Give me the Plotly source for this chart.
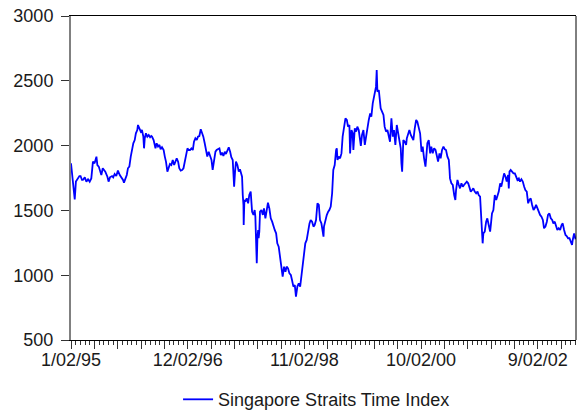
import plotly.graph_objects as go

# Straits Times Index, daily (5-day week) observations counted from 1/02/95
obs = [
    0, 7, 11, 16, 21, 30, 36, 41, 47, 51, 59, 66, 73, 80, 87, 94, 101, 109, 113, 119,
    124, 130, 136, 141, 147, 156, 161, 167, 176, 181, 187, 194, 201, 209, 216, 223, 227, 233, 239, 244,
    250, 256, 261, 267, 273, 278, 284, 287, 293, 299, 304, 310, 313, 316, 321, 327, 333, 339, 344,
    347, 354, 362, 367, 373, 379, 384, 390, 397, 402, 407, 413, 419, 424, 430, 436, 442, 447, 453, 459,
    464, 470, 476, 482, 487, 493, 499, 504, 510, 516, 522, 527, 533, 539, 544, 550, 556, 562, 567, 573,
    579, 584, 590, 596, 602, 607, 613, 619, 624, 630, 636, 642, 647, 653, 659, 664, 670, 676, 682, 687,
    693, 697, 699, 703, 707,
    713, 719, 724, 730, 733, 736, 739, 740, 743, 747, 753, 759, 764, 770, 773, 776, 782, 787, 790, 793,
    796, 799, 802, 804, 807, 810, 816, 822, 827, 833, 839, 844, 850, 856, 862, 867, 873, 879, 884, 890,
    896, 902, 907, 913, 919, 924, 930, 936, 942, 947, 953, 959, 964, 970, 976, 982, 987, 993, 999, 1004,
    1010, 1016, 1022, 1027, 1033, 1039, 1044, 1050, 1056, 1062, 1067, 1073,
    1079, 1082, 1084, 1090, 1096, 1102, 1107, 1113, 1119, 1124, 1130, 1136, 1139, 1142, 1147, 1153, 1159,
    1164, 1170, 1176, 1182, 1187, 1193, 1196, 1202, 1207, 1210, 1216, 1222, 1227, 1233, 1239, 1242, 1247,
    1253, 1259, 1264, 1270, 1276, 1282, 1287, 1293, 1299, 1304, 1307, 1310, 1313, 1319, 1322, 1327, 1333,
    1339, 1344, 1350, 1356, 1362, 1367, 1373, 1379, 1384, 1390, 1396, 1402, 1407, 1413, 1416, 1419, 1422,
    1424, 1430, 1436,
    1439, 1444, 1450, 1456, 1462, 1467, 1473, 1479, 1484, 1490, 1496, 1502, 1507, 1513, 1519, 1522, 1527,
    1533, 1539, 1544, 1550, 1556, 1562, 1567, 1573, 1579, 1584, 1590, 1596, 1602, 1607, 1613, 1619, 1622,
    1624, 1630, 1636, 1642, 1647, 1650, 1656, 1662, 1667, 1673, 1679, 1684, 1690, 1696, 1702, 1707, 1713,
    1719, 1724, 1730, 1736, 1742, 1747, 1753, 1756, 1759, 1762, 1764, 1767, 1773, 1779, 1784, 1790, 1796,
    1799, 1804, 1810, 1816, 1822, 1827, 1833, 1839, 1844, 1850, 1856, 1862, 1867, 1873, 1876, 1879, 1884,
    1890, 1896, 1902, 1907, 1913, 1919, 1924, 1930, 1936, 1942, 1947, 1953, 1959, 1964, 1970, 1976, 1982,
    1987, 1993, 1999, 2004, 2010, 2016, 2022, 2027, 2033, 2039, 2044, 2050, 2056, 2062, 2067, 2073, 2079,
    2084, 2090, 2096, 2102, 2107, 2113, 2119, 2124, 2130, 2136, 2142, 2147, 2150, 2153, 2156, 2162,
]
sti = [
    1863, 1747, 1657, 1585, 1722, 1747, 1765, 1765, 1735, 1735, 1755, 1722, 1740, 1722, 1747, 1876, 1863, 1915, 1850, 1838,
    1799, 1773, 1825, 1812, 1799, 1760, 1722, 1755, 1765, 1755, 1781, 1765, 1807, 1773, 1755, 1735, 1714, 1740, 1773, 1825,
    1838, 1915, 1966, 2018, 2043, 2095, 2120, 2159, 2133, 2108, 2120, 2069, 1979, 2056, 2095, 2069, 2082, 2064, 2074,
    2069, 2043, 1979, 2018, 1992, 2005, 1971, 1987, 1966, 1915, 1876, 1799, 1838, 1858, 1850, 1889, 1850, 1876, 1902, 1876,
    1825, 1807, 1812, 1825, 1876, 1940, 1979, 1966, 1966, 1979, 1966, 2030, 2056, 2043, 2069, 2074, 2126, 2095, 2069, 2018,
    1940, 1915, 1953, 1927, 1889, 1812, 1889, 1953, 1966, 1971, 1979, 1927, 1945, 1920, 1953, 1935, 1971, 1987, 1953, 1910,
    1889, 1799, 1683, 1799, 1876,
    1850, 1799, 1817, 1786, 1760, 1619, 1542, 1387, 1580, 1567, 1593, 1555, 1619, 1645, 1567, 1490, 1465, 1503, 1452, 1272,
    1092, 1297, 1349, 1285, 1336, 1490, 1503, 1465, 1516, 1439, 1490, 1560, 1516, 1439, 1413, 1375, 1349, 1323, 1246, 1220,
    1143, 1066, 989, 1066, 1027, 1066, 1053, 1014, 1002, 963, 912, 924, 834, 912, 937, 912, 989, 1092, 1156, 1246,
    1272, 1349, 1400, 1426, 1413, 1375, 1387, 1426, 1555, 1542, 1426, 1400,
    1336, 1297, 1375, 1426, 1464, 1490, 1503, 1529, 1632, 1812, 1850, 1966, 1979, 1889, 1915, 1902, 1940,
    2069, 2146, 2210, 2198, 2146, 2159, 1940, 2120, 2095, 1966, 2133, 2108, 2146, 2120, 2043, 1997, 2082,
    2120, 2005, 2069, 2120, 2198, 2249, 2223, 2326, 2378, 2403, 2455, 2583, 2416, 2429, 2352, 2288, 2262,
    2236, 2146, 2108, 2120, 2082, 2030, 2210, 2069, 2120, 2005, 2159, 2082, 2018, 1979, 1863, 1799, 1940,
    2043, 2030, 2005,
    2056, 2095, 2120, 2082, 2056, 2043, 2133, 2198, 2185, 2146, 2095, 1953, 1992, 1902, 1838, 1902, 2018,
    2043, 1940, 1992, 1940, 1979, 1966, 1927, 1876, 1940, 1902, 1966, 1992, 1971, 1966, 1915, 1889, 1812,
    1747, 1709, 1696, 1619, 1580, 1657, 1735, 1696, 1670, 1709, 1683, 1696, 1709, 1722, 1709, 1683, 1645,
    1657, 1670, 1645, 1632, 1645, 1619, 1606, 1503, 1375, 1323, 1246, 1323, 1336, 1413, 1439, 1387, 1336,
    1387, 1477, 1503, 1619, 1580, 1606, 1645, 1709, 1683, 1735, 1786, 1760, 1722, 1773, 1670, 1799, 1812,
    1799, 1786, 1786, 1760, 1735, 1747, 1722, 1740, 1722, 1683, 1657, 1645, 1555, 1580, 1593, 1542, 1503,
    1516, 1542, 1516, 1490, 1465, 1452, 1426, 1362, 1375, 1413, 1465, 1477, 1439, 1426, 1400, 1413, 1375,
    1349, 1362, 1349, 1387, 1400, 1349, 1310, 1302, 1285, 1285, 1259, 1233, 1272, 1297, 1323, 1277,
]

# Date labels every 500 observations; tick marks every 100, minor every 20
label_obs = [0, 500, 1000, 1500, 2000]
label_text = ["1/02/95", "12/02/96", "11/02/98", "10/02/00", "9/02/02"]
y_ticks = [500, 1000, 1500, 2000, 2500, 3000]
series_name = "Singapore Straits Time Index"

x_end = 2164
major_vals = list(range(0, x_end, 100))
major_text = [label_text[label_obs.index(v)] if v in label_obs else "" for v in major_vals]
minor_vals = [v for v in range(0, x_end, 20) if v % 100 != 0]

FONT = "Arial, 'Liberation Sans', sans-serif"
TXT = "#1a1a1a"

fig = go.Figure()
fig.add_trace(go.Scatter(
    x=obs, y=sti, mode="lines", name=series_name,
    line=dict(color="#0000ff", width=1.8),
    showlegend=True,
))

fig.update_layout(
    width=580, height=414,
    margin=dict(l=71, r=4, t=16, b=74, autoexpand=False),
    paper_bgcolor="white", plot_bgcolor="white",
    font=dict(family=FONT, size=18, color=TXT),
    showlegend=True,
    legend=dict(
        orientation="h", x=0.212, xanchor="left", y=-0.184, yanchor="middle",
        font=dict(family=FONT, size=18, color=TXT),
        bgcolor="rgba(0,0,0,0)", borderwidth=0,
    ),
    xaxis=dict(
        range=[0, x_end], showgrid=False, zeroline=False, automargin=False,
        showline=True, linecolor="#000000", linewidth=1, mirror=True,
        tickmode="array", tickvals=major_vals, ticktext=major_text,
        ticks="outside", ticklen=8, tickcolor="#333333", tickwidth=1,
        ticklabelstandoff=-5,
        tickfont=dict(family=FONT, size=18, color=TXT),
        minor=dict(tickmode="array", tickvals=minor_vals, ticks="outside",
                   ticklen=4, tickcolor="#333333", tickwidth=1, showgrid=False),
    ),
    yaxis=dict(
        range=[500, 3000], showgrid=False, zeroline=False, automargin=False,
        showline=True, linecolor="#808080", linewidth=2,
        tickmode="array", tickvals=y_ticks,
        ticks="outside", ticklen=8, tickcolor="#333333", tickwidth=1,
        ticklabelstandoff=4,
        tickfont=dict(family=FONT, size=18, color=TXT),
    ),
    shapes=[dict(type="line", xref="paper", yref="paper", x0=1, x1=1, y0=0, y1=1,
                 line=dict(color="#000000", width=1))],
)

fig.write_html("out.html")
